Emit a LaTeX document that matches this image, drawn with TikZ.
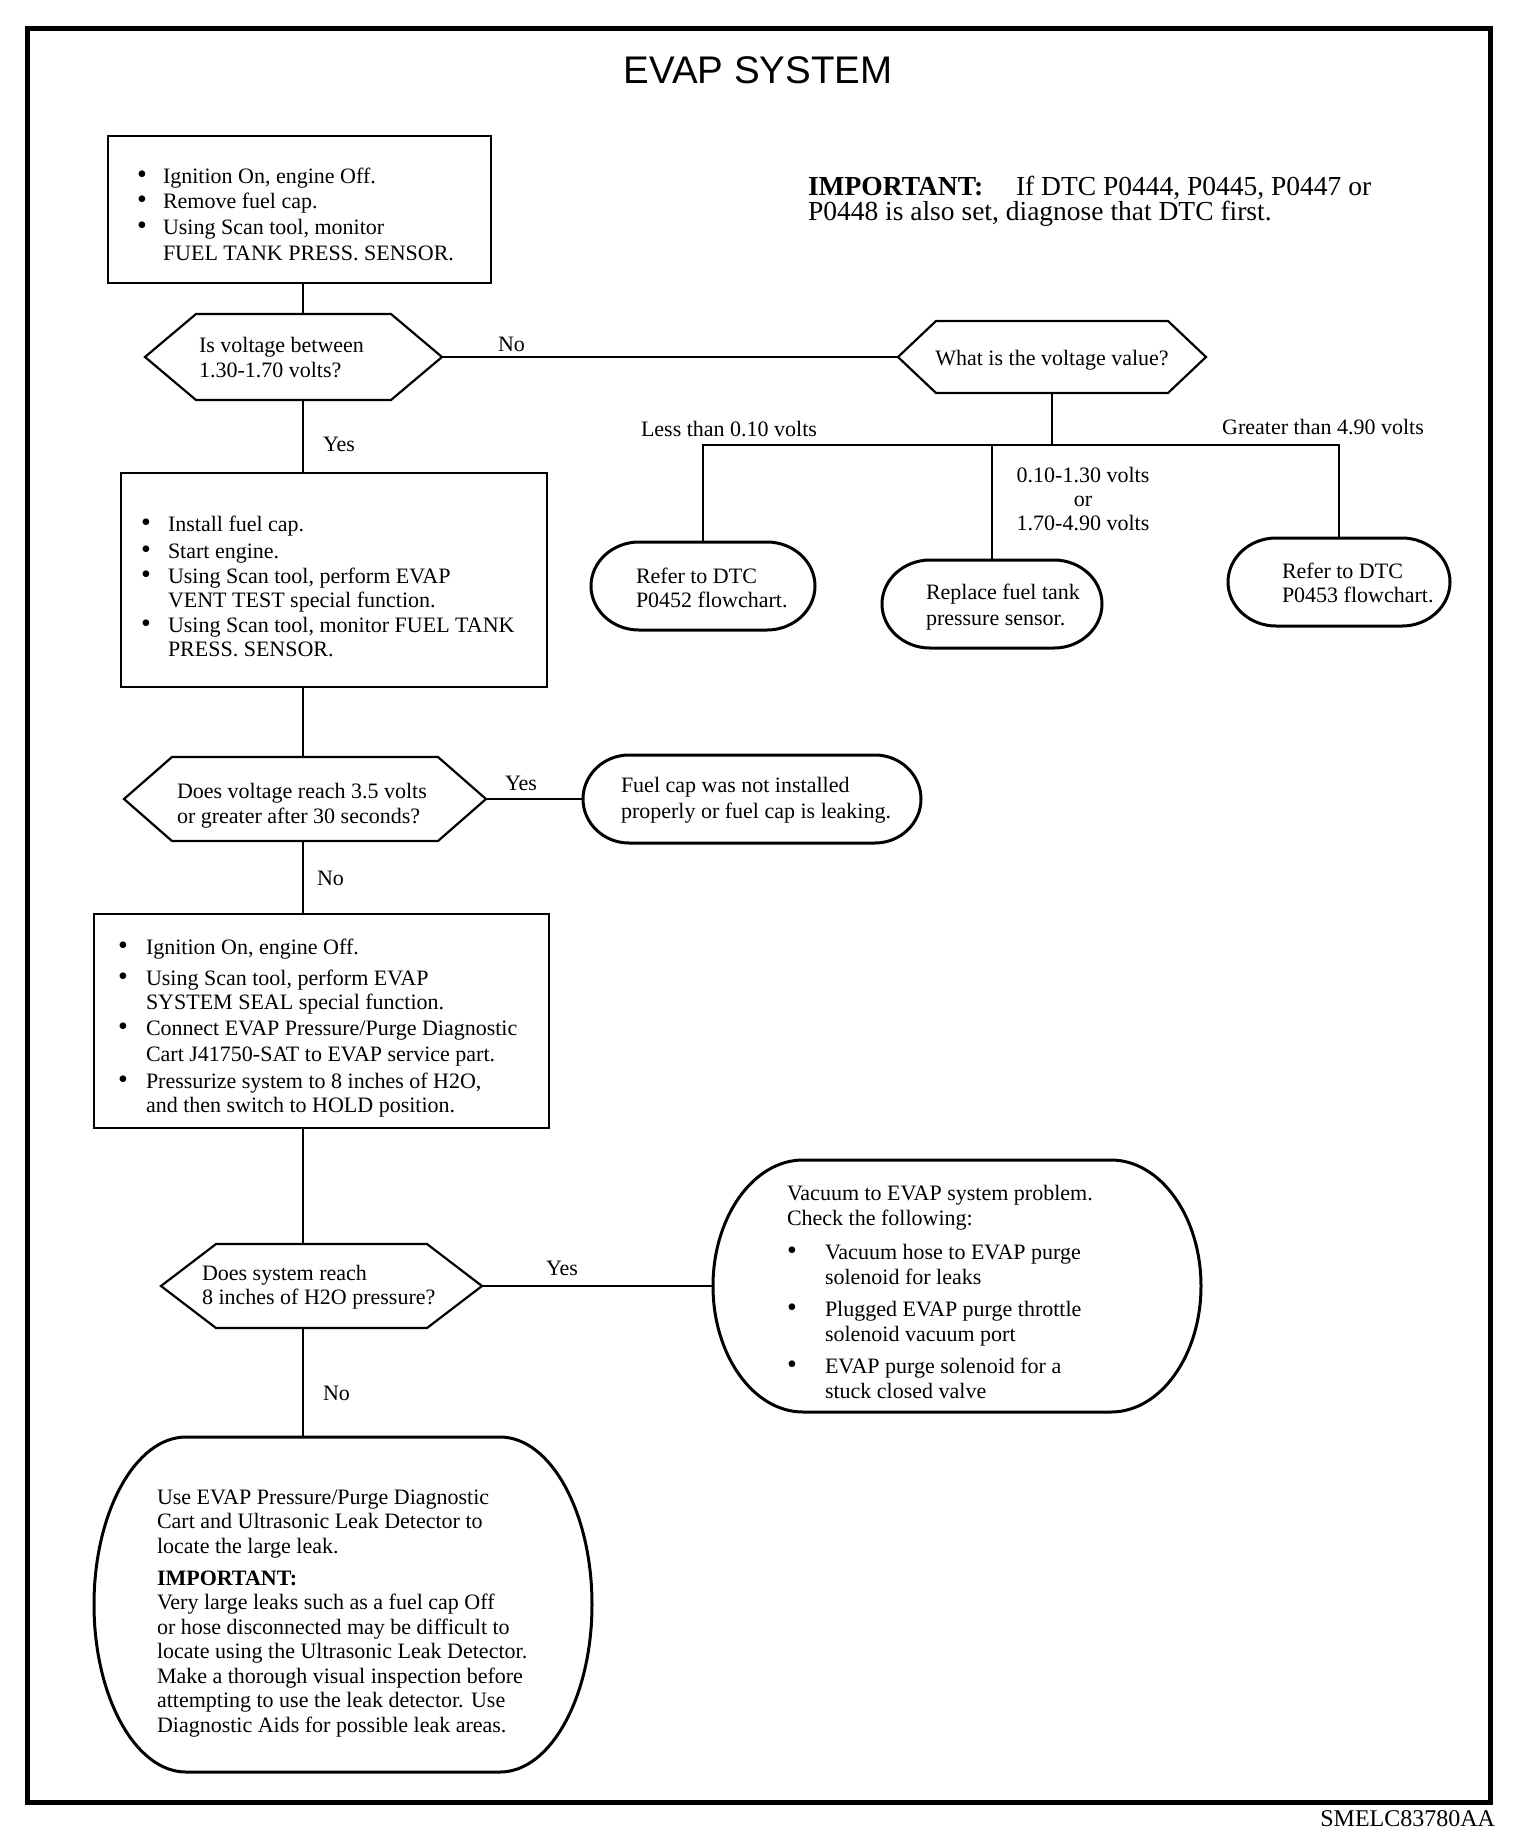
\documentclass[tikz,border=0pt]{standalone}
\usepackage{fontspec}
\setmainfont{Liberation Serif}
\newfontfamily\titlefont{Liberation Sans}
\usetikzlibrary{calc}
\newcommand\bul[1]{\makebox[#1][l]{\smash{\fontsize{28}{24}\selectfont\textbullet}}}
\newcommand\ind[1]{\hspace*{#1}}
\newcommand\mkarea[6][]{\node[area,#1,minimum width={(#5)-(#3)},minimum height={(#6)-(#4)}] (#2) at ({((#3)+(#5))/2},{((#4)+(#6))/2}) {};}
\newcommand\hexa[2]{\draw[shapeline] ([xshift=#2]#1.north west) -- ([xshift=-#2]#1.north east) -- (#1.east) -- ([xshift=-#2]#1.south east) -- ([xshift=#2]#1.south west) -- (#1.west) -- cycle;}
\newcommand\stad[2]{%
\draw[termline] ([xshift=#2]#1.north west) -- ([xshift=-#2]#1.north east)
 .. controls ([xshift={-0.45*#2}]#1.north east) and ($(#1.east)!0.55!(#1.north east)$) .. (#1.east)
 .. controls ($(#1.east)!0.55!(#1.south east)$) and ([xshift={-0.45*#2}]#1.south east) .. ([xshift=-#2]#1.south east)
 -- ([xshift=#2]#1.south west)
 .. controls ([xshift={0.45*#2}]#1.south west) and ($(#1.west)!0.55!(#1.south west)$) .. (#1.west)
 .. controls ($(#1.west)!0.55!(#1.north west)$) and ([xshift={0.45*#2}]#1.north west) .. ([xshift=#2]#1.north west) -- cycle;}
\tikzset{
  area/.style={shape=rectangle,inner sep=0pt,outer sep=0pt},
  boxline/.style={draw,line width=2.2pt},
  shapeline/.style={line width=2.2pt,line join=miter},
  termline/.style={line width=3pt,line join=round},
  conn/.style={line width=2pt},
  frameline/.style={line width=5pt},
  txt/.style={inner sep=0pt,outer sep=0pt,font=\fontsize{22}{24}\selectfont},
}
\begin{document}
\begin{tikzpicture}[x=1pt,y=-1pt]
\useasboundingbox (0,0) rectangle (1536,1848);
\draw[frameline] (27,28) rectangle (1490,1802);
\node[inner sep=0pt,anchor=base,font=\titlefont\fontsize{38.5}{40}\selectfont] (title) at (758,83) {EVAP SYSTEM};
\node[txt,anchor=base west,font=\fontsize{27.5}{30}\selectfont] (imp1) at (808,195) {\makebox[208pt][l]{\textbf{IMPORTANT:}}If DTC P0444, P0445, P0447 or};
\node[txt,anchor=base west,font=\fontsize{27.5}{30}\selectfont] (imp2) at (808,220) {P0448 is also set, diagnose that DTC first.};
\node[txt,anchor=base east,font=\fontsize{24}{26}\selectfont] (code) at (1495,1826) {SMELC83780AA};

% shapes
\mkarea[boxline]{b1}{108}{136}{491}{283}
\mkarea{h1}{145}{314}{442}{400}
\mkarea{h2}{898}{321}{1206}{393}
\mkarea{eL}{591}{542}{815}{630}
\mkarea{eM}{882}{560}{1102}{648}
\mkarea{eR}{1228}{538}{1450}{626}
\mkarea[boxline]{b2}{121}{473}{547}{687}
\mkarea{h3}{124}{757}{486}{841}
\mkarea{fc}{583}{755}{921}{843}
\mkarea[boxline]{b3}{94}{914}{549}{1128}
\mkarea{h4}{161}{1244}{482}{1328}
\mkarea{vac}{713}{1160}{1201}{1412}
\mkarea{bot}{94}{1437}{592}{1772}
\hexa{h1}{51pt}
\hexa{h2}{38pt}
\hexa{h3}{48pt}
\hexa{h4}{55pt}
\stad{eL}{48pt}
\stad{eM}{48pt}
\stad{eR}{48pt}
\stad{fc}{46pt}
\stad{vac}{90pt}
\stad{bot}{92pt}

% texts
\node[txt,anchor=base west,font=\fontsize{22}{25.7}\selectfont] (t1) at (137,183) {\begin{tabular}[t]{@{}l@{}}
\bul{26pt}Ignition On, engine Off.\\
\bul{26pt}Remove fuel cap.\\
\bul{26pt}Using Scan tool, monitor\\
\ind{26pt}FUEL TANK PRESS. SENSOR.\end{tabular}};
\node[txt,anchor=base west] (th1) at (199,352) {\begin{tabular}[t]{@{}l@{}}Is voltage between\\[1pt]1.30-1.70 volts?\end{tabular}};
\node[txt,anchor=base] (th2) at (1052,365) {What is the voltage value?};
\node[txt,anchor=base] (lless) at (729,436) {Less than 0.10 volts};
\node[txt,anchor=base] (lgreat) at (1323,434) {Greater than 4.90 volts};
\node[txt,anchor=base] (lmid) at (1083,482) {\begin{tabular}[t]{@{}c@{}}0.10-1.30 volts\\or\\1.70-4.90 volts\end{tabular}};
\node[txt,anchor=base west] (teL) at (636,583) {\begin{tabular}[t]{@{}l@{}}Refer to DTC\\P0452 flowchart.\end{tabular}};
\node[txt,anchor=base west] (teM) at (926,599) {\begin{tabular}[t]{@{}l@{}}Replace fuel tank\\[2pt]pressure sensor.\end{tabular}};
\node[txt,anchor=base west] (teR) at (1282,578) {\begin{tabular}[t]{@{}l@{}}Refer to DTC\\P0453 flowchart.\end{tabular}};
\node[txt,anchor=base west] (t2) at (141,531) {\begin{tabular}[t]{@{}l@{}}
\bul{27pt}Install fuel cap.\\[3pt]
\bul{27pt}Start engine.\\[1pt]
\bul{27pt}Using Scan tool, perform EVAP\\
\ind{27pt}VENT TEST special function.\\[1pt]
\bul{27pt}Using Scan tool, monitor FUEL TANK\\
\ind{27pt}PRESS. SENSOR.\end{tabular}};
\node[txt,anchor=base west] (th3) at (177,798) {\begin{tabular}[t]{@{}l@{}}Does voltage reach 3.5 volts\\[1pt]or greater after 30 seconds?\end{tabular}};
\node[txt,anchor=base west] (tfc) at (621,792) {\begin{tabular}[t]{@{}l@{}}Fuel cap was not installed\\[2pt]properly or fuel cap is leaking.\end{tabular}};
\node[txt,anchor=base west] (t3) at (118,954) {\begin{tabular}[t]{@{}l@{}}
\bul{28pt}Ignition On, engine Off.\\[7pt]
\bul{28pt}Using Scan tool, perform EVAP\\
\ind{28pt}SYSTEM SEAL special function.\\[2pt]
\bul{28pt}Connect EVAP Pressure/Purge Diagnostic\\[2pt]
\ind{28pt}Cart J41750-SAT to EVAP service part.\\[3pt]
\bul{28pt}Pressurize system to 8 inches of H2O,\\
\ind{28pt}and then switch to HOLD position.\end{tabular}};
\node[txt,anchor=base west] (th4) at (202,1280) {\begin{tabular}[t]{@{}l@{}}Does system reach\\8 inches of H2O pressure?\end{tabular}};
\node[txt,anchor=base west,font=\fontsize{22}{25}\selectfont] (tvac) at (787,1200) {\begin{tabular}[t]{@{}l@{}}
Vacuum to EVAP system problem.\\
Check the following:\\[9pt]
\bul{38pt}Vacuum hose to EVAP purge\\
\ind{38pt}solenoid for leaks\\[7pt]
\bul{38pt}Plugged EVAP purge throttle\\
\ind{38pt}solenoid vacuum port\\[7pt]
\bul{38pt}EVAP purge solenoid for a\\
\ind{38pt}stuck closed valve\end{tabular}};
\node[txt,anchor=base west,font=\fontsize{22}{24.5}\selectfont] (tbot) at (157,1504) {\begin{tabular}[t]{@{}l@{}}
Use EVAP Pressure/Purge Diagnostic\\
Cart and Ultrasonic Leak Detector to\\
locate the large leak.\\[7.5pt]
\textbf{IMPORTANT:}\\
Very large leaks such as a fuel cap Off\\
or hose disconnected may be difficult to\\
locate using the Ultrasonic Leak Detector.\\
Make a thorough visual inspection before\\
attempting to use the leak detector. Use\\
Diagnostic Aids for possible leak areas.\end{tabular}};

% connectors
\coordinate (sp) at (303,0);
\coordinate (jy) at (0,445);
\coordinate (j) at (h2.south |- jy);
\draw[conn] (b1.south -| sp) -- (h1.north -| sp);
\draw[conn] (h1.east) -- (h2.west);
\draw[conn] (h2.south) -- (j);
\draw[conn] (eL.north) |- (j) -| (eR.north);
\draw[line width=1.3pt] (eM.north |- j) -- (eM.north);
\draw[conn] (h1.south -| sp) -- (b2.north -| sp);
\draw[conn] (b2.south -| sp) -- (h3.north -| sp);
\draw[conn] (h3.east) -- (fc.west);
\draw[conn] (h3.south -| sp) -- (b3.north -| sp);
\draw[conn] (b3.south -| sp) -- (h4.north -| sp);
\draw[conn] (h4.east) -- (vac.west);
\draw[conn] (h4.south -| sp) -- (bot.north -| sp);

% connector labels
\node[txt,anchor=base west] (lno1) at (498,351) {No};
\node[txt,anchor=base west] (lyes1) at (323,451) {Yes};
\node[txt,anchor=base west] (lyes2) at (505,790) {Yes};
\node[txt,anchor=base west] (lno2) at (317,885) {No};
\node[txt,anchor=base west] (lyes3) at (546,1275) {Yes};
\node[txt,anchor=base west] (lno3) at (323,1400) {No};
\end{tikzpicture}
\end{document}
